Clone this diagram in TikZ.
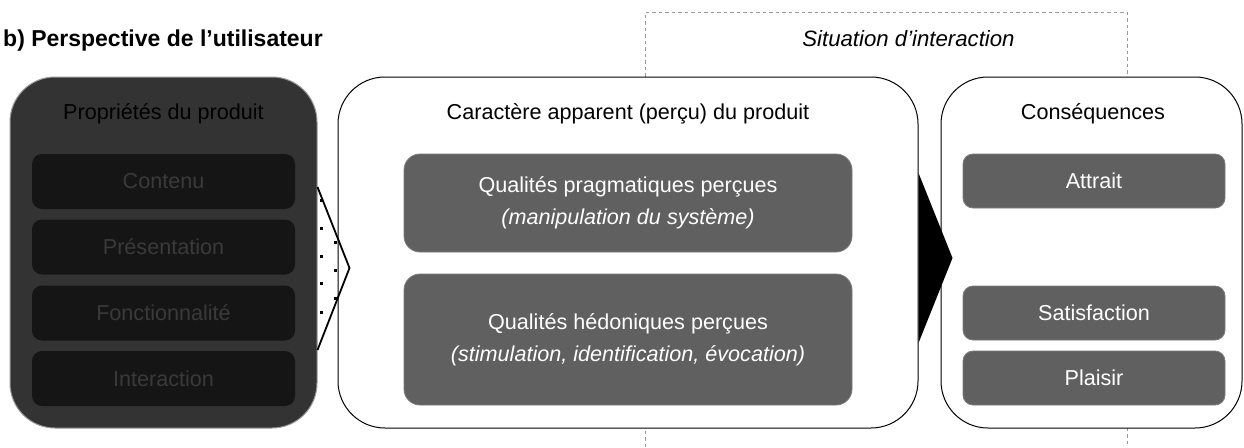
\documentclass[tikz,border=0pt]{standalone}
\usepackage{fontspec}
\setmainfont{Liberation Sans}
\usetikzlibrary{calc}
\definecolor{darkbox}{HTML}{333333}
\definecolor{innerdark}{HTML}{151515}
\definecolor{innertext}{HTML}{3A3A3A}
\definecolor{midgray}{HTML}{606060}
\definecolor{midedge}{HTML}{7C7C7C}
\definecolor{dashgray}{HTML}{9A9A9A}
\newcommand\myfont{\fontsize{21.6}{32}\selectfont}
\begin{document}
\begin{tikzpicture}[x=1pt,y=-1pt,
  outerbox/.style={draw=black, line width=1pt, fill=white, rounded corners=47pt, inner sep=0},
  leftouter/.style={draw=gray!80, line width=1pt, fill=darkbox, rounded corners=45pt, inner sep=0},
  lbox/.style={fill=innerdark, rounded corners=10pt, text=innertext, font=\myfont, minimum width=263pt, minimum height=55pt, inner sep=0},
  gbox/.style={fill=midgray, draw=midedge, line width=0.8pt, rounded corners=12pt, text=white, font=\myfont, align=center, inner sep=0},
  rbox/.style={gbox, minimum width=262pt, minimum height=54pt, rounded corners=10pt},
  boxtitle/.style={anchor=base, font=\myfont, inner sep=0},
  dashline/.style={draw=dashgray, line width=1pt, dash pattern=on 3.5pt off 3pt},
  dotmark/.style={fill=black}
]
\useasboundingbox (0,0) rectangle (1244,447);
\fill[white] (0,0) rectangle (1244,447);

% dashed interaction frame
\coordinate (dA) at (645,447);
\coordinate (dB) at (645,12);
\coordinate (dC) at (1127,12);
\coordinate (dD) at (1127,447);
\draw[dashline] (dA) -- (dB) -- (dC) -- (dD);
\node[anchor=base, font=\fontsize{22.2}{26}\selectfont\itshape, inner sep=0] (sit) at (908.5,46) {Situation d’interaction};

% title
\node[anchor=base west, font=\fontsize{23}{26}\selectfont\bfseries, inner sep=0] (title) at (3,46) {b) Perspective de l’utilisateur};

% outer boxes
\node[leftouter, minimum width=307pt, minimum height=351pt] (L) at (163.5,252.5) {};
\node[outerbox, minimum width=580pt, minimum height=351pt] (M) at (628,252.5) {};
\node[outerbox, minimum width=301pt, minimum height=351pt] (R) at (1091.5,252.5) {};

% titles
\node[boxtitle, text=black] (Lt) at (163.5,119) {Propriétés du produit};
\node[boxtitle] (Mt) at (628,119) {Caractère apparent (perçu) du produit};
\node[boxtitle] (Rt) at (1093,119) {Conséquences};

% left inner
\node[lbox] (c1) at (163.5,181.5) {Contenu};
\node[lbox] (c2) at (163.5,247) {Présentation};
\node[lbox] (c3) at (163.5,313) {Fonctionnalité};
\node[lbox] (c4) at (163.5,378.5) {Interaction};

% middle inner
\node[gbox, minimum width=448pt, minimum height=98pt, rounded corners=16pt] (pq) at (628,203)
  {Qualités pragmatiques perçues\\\textit{(manipulation du système)}};
\node[gbox, minimum width=448pt, minimum height=131pt, rounded corners=16pt] (hq) at (628,339.5)
  {Qualités hédoniques perçues\\\textit{(stimulation, identification, évocation)}};

% right inner
\node[rbox] (r1) at (1094,181) {Attrait};
\node[rbox] (r2) at (1094,313) {Satisfaction};
\node[rbox] (r3) at (1094,378) {Plaisir};

% dotted chevron from L to M
\coordinate (ch1) at ($(L.east)+(0,-65.5)$);
\coordinate (ch2) at ($(L.east)+(32,15.5)$);
\coordinate (ch3) at ($(L.east)+(0,97.5)$);
\begin{scope}
\clip (ch1) -- (ch2) -- (ch3) -- cycle;
\foreach \yy in {199,227,255,282,311} \fill[dotmark] (319.5,\yy) rectangle ++(3,3);
\foreach \yy in {241,269,297} \fill[dotmark] (333.5,\yy) rectangle ++(3,3);
\end{scope}
\draw[line width=1.8pt, line join=miter] (ch1) -- (ch2) -- (ch3);

% black arrow from M to R
\coordinate (ar1) at ($(M.east)+(0,-79.5)$);
\coordinate (ar2) at ($(M.east)+(34,5.5)$);
\coordinate (ar3) at ($(M.east)+(0,90.5)$);
\fill[black] (ar1) -- (ar2) -- (ar3) -- cycle;
\end{tikzpicture}
\end{document}
